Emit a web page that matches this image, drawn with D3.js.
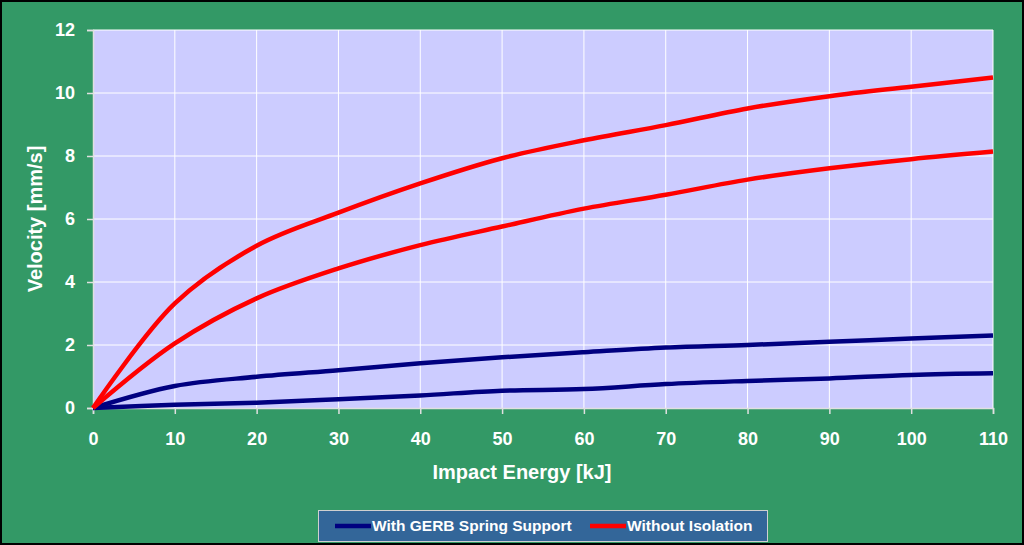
<!DOCTYPE html>
<html>
<head>
<meta charset="utf-8">
<script src="https://cdn.jsdelivr.net/npm/d3@7"></script>
<style>
  html, body { margin: 0; padding: 0; background: #000; }
  svg { display: block; }
  text { font-family: "Liberation Sans", Arial, sans-serif; font-weight: bold; fill: #ffffff; }
</style>
</head>
<body>
<svg id="chart" width="1024" height="545"></svg>
<script>
const energy = [0, 10, 20, 30, 40, 50, 60, 70, 80, 90, 100, 110];
const withoutUpper = [0, 3.32, 5.15, 6.2, 7.13, 7.93, 8.5, 8.98, 9.51, 9.9, 10.2, 10.49];
const withoutLower = [0, 2.05, 3.48, 4.43, 5.17, 5.76, 6.33, 6.77, 7.25, 7.61, 7.9, 8.14];
const gerbUpper = [0, 0.70, 0.99, 1.2, 1.42, 1.61, 1.77, 1.92, 2.0, 2.1, 2.21, 2.3];
const gerbLower = [0, 0.1, 0.17, 0.28, 0.4, 0.55, 0.6, 0.76, 0.86, 0.94, 1.05, 1.1];
const xTicks = [0, 10, 20, 30, 40, 50, 60, 70, 80, 90, 100, 110];
const yTicks = [0, 2, 4, 6, 8, 10, 12];
const seriesNames = ["With GERB Spring Support", "Without Isolation"];
const seriesColors = ["#000080", "#ff0000"];

const W = 1024, H = 545;
const plot = { left: 93, right: 993, top: 30, bottom: 408 };

const svg = d3.select("#chart");
// background with black frame
svg.append("rect").attr("x", 0).attr("y", 0).attr("width", W).attr("height", H).attr("fill", "#000");
svg.append("rect").attr("x", 2).attr("y", 2).attr("width", W - 4).attr("height", H - 4).attr("fill", "#339966");

const x = d3.scaleLinear().domain([0, 110]).range([plot.left, plot.right]);
const y = d3.scaleLinear().domain([0, 12]).range([plot.bottom, plot.top]);

// plot area
svg.append("rect").attr("x", plot.left).attr("y", plot.top)
  .attr("width", plot.right - plot.left).attr("height", plot.bottom - plot.top)
  .attr("fill", "#ccccff");

// gridlines
const grid = svg.append("g");
grid.selectAll("line.v").data(xTicks.slice(1)).join("line")
  .attr("x1", d => x(d)).attr("x2", d => x(d))
  .attr("y1", plot.top).attr("y2", plot.bottom)
  .attr("stroke", "#ffffff").attr("stroke-width", 1);
grid.selectAll("line.h").data(yTicks.slice(1)).join("line")
  .attr("x1", plot.left).attr("x2", plot.right)
  .attr("y1", d => y(d)).attr("y2", d => y(d))
  .attr("stroke", "#ffffff").attr("stroke-width", 1);

// axes
const xAxis = svg.append("g").attr("transform", `translate(0,${plot.bottom})`)
  .call(d3.axisBottom(x).tickValues(xTicks).tickSize(6).tickPadding(18).tickFormat(d3.format("d")));
const yAxis = svg.append("g").attr("transform", `translate(${plot.left},0)`)
  .call(d3.axisLeft(y).tickValues(yTicks).tickSize(6).tickPadding(12).tickFormat(d3.format("d")));
[xAxis, yAxis].forEach(a => {
  a.select(".domain").attr("stroke", "#e0e0e0").attr("stroke-width", 1.5);
  a.selectAll(".tick line").attr("stroke", "#e0e0e0").attr("stroke-width", 1.5);
  a.selectAll(".tick text").attr("fill", "#ffffff").style("font-size", "18px")
    .style("font-family", "'Liberation Sans', Arial, sans-serif").style("font-weight", "bold");
});

// axis titles
svg.append("text").attr("x", 522).attr("y", 479)
  .attr("text-anchor", "middle").style("font-size", "20px").text("Impact Energy [kJ]");
svg.append("text").attr("transform", `translate(42,${(plot.top + plot.bottom) / 2}) rotate(-90)`)
  .attr("text-anchor", "middle").style("font-size", "20px").text("Velocity [mm/s]");

// lines
const line = d3.line().x((d, i) => x(energy[i])).y(d => y(d)).curve(d3.curveCatmullRom.alpha(0.5));
const series = [
  { v: gerbLower, c: seriesColors[0] },
  { v: gerbUpper, c: seriesColors[0] },
  { v: withoutLower, c: seriesColors[1] },
  { v: withoutUpper, c: seriesColors[1] }
];
svg.append("g").selectAll("path").data(series).join("path")
  .attr("d", d => line(d.v)).attr("fill", "none")
  .attr("stroke", d => d.c).attr("stroke-width", 4.5)
  .attr("stroke-linejoin", "round");

// legend
const lg = svg.append("g");
lg.append("rect").attr("x", 318.5).attr("y", 510.5).attr("width", 449).attr("height", 31)
  .attr("fill", "#336699").attr("stroke", "#d0d0d0").attr("stroke-width", 1);
const legendItems = [
  { name: seriesNames[0], color: seriesColors[0], x0: 335 },
  { name: seriesNames[1], color: seriesColors[1], x0: 590 }
];
legendItems.forEach(it => {
  lg.append("line").attr("x1", it.x0).attr("x2", it.x0 + 36).attr("y1", 526).attr("y2", 526)
    .attr("stroke", it.color).attr("stroke-width", 4.5);
  lg.append("text").attr("x", it.x0 + 37).attr("y", 531).style("font-size", "15.5px").text(it.name);
});
</script>
</body>
</html>
